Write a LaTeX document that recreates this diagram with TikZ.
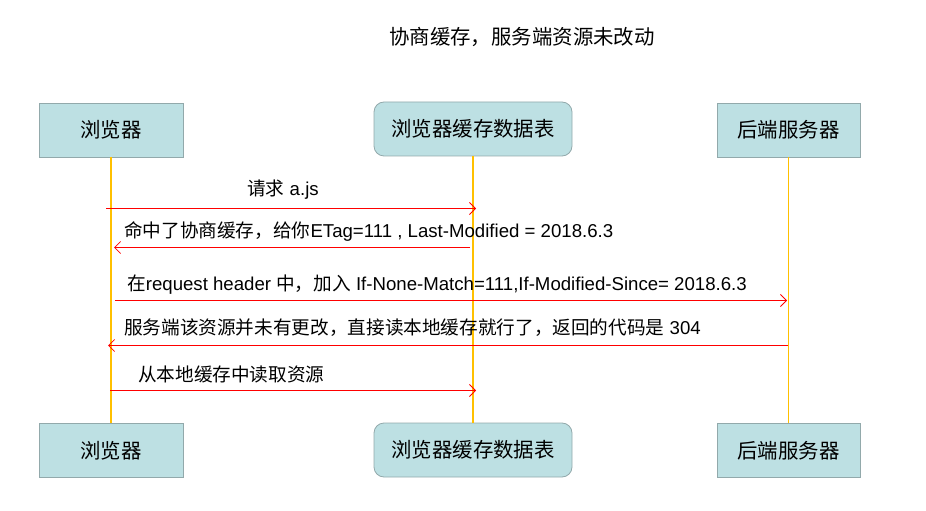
\documentclass[tikz,border=0pt]{standalone}
\usepackage{fontspec}
\setmainfont{Liberation Sans}
\newfontfamily\cjk{Noto Sans CJK SC}
\usetikzlibrary{arrows.meta,positioning}
\definecolor{boxfill}{RGB}{189,224,227}
\definecolor{boxline}{RGB}{146,169,171}
\definecolor{lifeline}{RGB}{255,192,0}
\newcommand{\zh}[1]{{\cjk #1}}

\tikzset{
  actor/.style={draw=boxline, fill=boxfill, line width=0.8pt, minimum width=144bp, minimum height=54bp, font=\fontsize{20.5}{24}\selectfont\cjk},
  cachebox/.style={actor, rounded corners=10bp, minimum width=198bp},
  life/.style={draw=lifeline, line width=1.5bp},
  msg/.style={draw=red, line width=0.8pt, -{Straight Barb[length=6pt,width=12pt,line width=0.8pt]}},
  msglabel/.style={font=\fontsize{18.7}{22}\selectfont, anchor=west, inner sep=0pt}
}

\begin{document}
\begin{tikzpicture}[x=1bp, y=-1bp]
    \useasboundingbox (0,0) rectangle (926,511);

    % Title
    \node[font=\fontsize{20.5}{24}\selectfont\cjk] (title) at (522,37) {协商缓存，服务端资源未改动};

    % Top actors
    \node[actor] (browserTop) at (111,130) {浏览器};
    \node[cachebox] (cacheTop) at (473,129) {浏览器缓存数据表};
    \node[actor, minimum width=143bp] (serverTop) at (788.5,130) {后端服务器};

    % Bottom actors
    \node[actor] (browserBot) at (111,450.5) {浏览器};
    \node[cachebox] (cacheBot) at (473,450) {浏览器缓存数据表};
    \node[actor, minimum width=143bp] (serverBot) at (788.5,450.5) {后端服务器};

    % Lifelines
    \draw[life] (browserTop) -- (browserBot);
    \draw[life] (cacheTop) -- (cacheBot);
    \draw[life] (serverTop) -- (serverBot);

    % Message end points
    \coordinate (m1a) at (106,208.5);   \coordinate (m1b) at (476,208.5);
    \coordinate (m2a) at (470,247.5);   \coordinate (m2b) at (114,247.5);
    \coordinate (m3a) at (115,300.5);   \coordinate (m3b) at (787,300.5);
    \coordinate (m4a) at (788,345.5);   \coordinate (m4b) at (108,345.5);
    \coordinate (m5a) at (110,390.5);   \coordinate (m5b) at (476,390.5);

    % Messages
    \draw[msg] (m1a) -- (m1b);
    \node[msglabel, anchor=center] (l1) at (283,190) {\zh{请求} a.js};

    \draw[msg] (m2a) -- (m2b);
    \node[msglabel] (l2) at (124,231) {\zh{命中了协商缓存，给你}ETag=111 , Last-Modified = 2018.6.3};

    \draw[msg] (m3a) -- (m3b);
    \node[msglabel] (l3) at (127,285) {\zh{在}request header \zh{中，加入} If-None-Match=111,If-Modified-Since= 2018.6.3};

    \draw[msg] (m4a) -- (m4b);
    \node[msglabel] (l4) at (124,328) {\zh{服务端该资源并未有更改，直接读本地缓存就行了，返回的代码是} 304};

    \draw[msg] (m5a) -- (m5b);
    \node[msglabel] (l5) at (138,374) {\zh{从本地缓存中读取资源}};
\end{tikzpicture}
\end{document}
